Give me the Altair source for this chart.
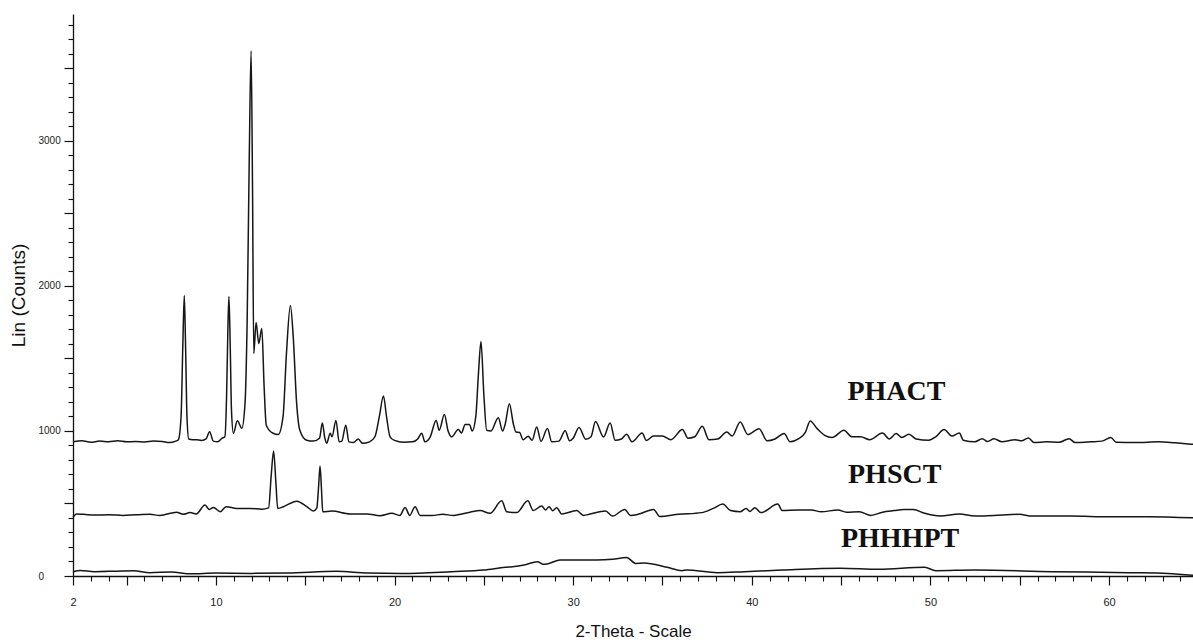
import altair as alt
import pandas as pd

# ---------------- data ----------------
phact_x = [2.0, 2.5, 3.0, 3.5, 4.0, 4.5, 5.0, 5.5, 6.0, 6.5, 7.0, 7.4, 7.75, 7.9, 8.05, 8.15, 8.23, 8.3, 8.38, 8.48,
           8.7, 8.9, 9.2, 9.45, 9.65, 9.85, 10.1, 10.35, 10.5, 10.6, 10.67, 10.73, 10.8, 10.87, 10.98, 11.2, 11.45,
           11.63, 11.75, 11.87, 11.97, 12.05, 12.12, 12.25, 12.4, 12.57, 12.7, 12.82, 13.2, 13.49, 13.76, 13.95,
           14.17, 14.33, 14.52, 14.7, 15.08, 15.45, 15.8, 15.96, 16.1, 16.2, 16.4, 16.5, 16.72, 16.9, 17.05, 17.27,
           17.45, 17.7, 17.97, 18.2, 18.6, 18.9, 19.15, 19.38, 19.55, 19.75, 20.0, 20.5, 21.0, 21.3, 21.52, 21.7,
           22.0, 22.33, 22.5, 22.79, 23.0, 23.2, 23.57, 23.75, 23.95, 24.19, 24.35, 24.55, 24.7, 24.84, 25.0, 25.16,
           25.4, 25.81, 26.05, 26.2, 26.43, 26.65, 26.8, 27.0, 27.2, 27.48, 27.7, 27.96, 28.2, 28.56, 28.8, 29.2,
           29.55, 29.8, 30.0, 30.33, 30.7, 31.0, 31.25, 31.7, 32.07, 32.35, 32.7, 32.99, 33.3, 33.86, 34.1, 34.5,
           35.0, 35.47, 36.12, 36.43, 36.8, 37.23, 37.6, 38.1, 38.6, 38.9, 39.35, 39.78, 40.41, 40.86, 41.3, 41.81,
           42.15, 42.6, 43.0, 43.27, 43.66, 44.08, 44.5, 45.16, 45.6, 46.1, 46.6, 47.32, 47.7, 48.08, 48.4, 48.8,
           49.2, 49.9, 50.3, 50.77, 51.2, 51.62, 51.84, 52.49, 52.9, 53.2, 53.56, 54.0, 54.74, 55.1, 55.49, 55.8,
           56.5, 57.2, 57.76, 58.1, 59.0, 59.6, 60.1, 60.4, 61.5, 62.8, 63.7, 64.7]
phact_y = [925, 932, 922, 930, 926, 932, 925, 928, 924, 930, 927, 920, 930, 940, 1100, 1600, 1934, 1600, 1100, 945,
           940, 940, 935, 945, 995, 930, 925, 950, 960, 1250, 1700, 1927, 1600, 1150, 984, 1070, 1019,
           1190, 1762, 2910, 3620, 2680, 1535, 1748, 1603, 1707, 1303, 1040, 984, 975, 1100, 1535,
           1865, 1647, 1190, 1005, 936, 930, 950, 1055, 950, 915, 985, 960, 1073, 925, 930, 1039,
           925, 920, 945, 915, 925, 960, 1100, 1241, 1100, 960, 935, 922, 925, 945, 984, 925,
           960, 1073, 1005, 1113, 1000, 959, 1010, 986, 1044, 1044, 1000, 1100, 1400, 1617, 1250, 1005,
           1000, 1092, 1000, 1050, 1188, 1050, 993, 990, 939, 963, 936, 1028, 929, 1017, 925, 930,
           1001, 932, 950, 1024, 943, 960, 1065, 959, 1055, 936, 945, 977, 925, 986, 935, 965,
           965, 940, 1010, 950, 960, 1032, 940, 945, 993, 965, 1062, 975, 1016, 932, 945, 982,
           925, 945, 990, 1069, 1016, 970, 955, 1005, 960, 960, 940, 986, 945, 982, 955, 977,
           945, 936, 960, 1010, 965, 986, 936, 925, 947, 928, 947, 925, 940, 932, 952, 920,
           925, 922, 947, 920, 925, 930, 955, 922, 920, 925, 918, 908]

phsct_x = [2.0, 2.2, 2.6, 3.2, 4.0, 4.8, 5.5, 6.3, 6.86, 7.8, 8.17, 8.55, 8.9, 9.39, 9.63, 9.86, 10.24, 10.57,
           11.17, 11.91, 12.57, 12.95, 13.1, 13.23, 13.36, 13.46, 13.78, 14.53, 15.09, 15.46, 15.65, 15.75, 15.83,
           15.91, 15.98, 16.49, 17.51, 18.45, 19.19, 19.85, 20.3, 20.59, 20.85, 21.15, 21.43, 22.1, 22.7, 23.3,
           24.23, 24.79, 25.35, 26.0, 26.28, 26.84, 27.46, 27.77, 28.24, 28.45, 28.65, 28.85, 29.08, 29.36, 30.2,
           30.58, 30.95, 31.81, 32.2, 32.89, 33.2, 33.63, 34.5, 34.85, 35.9, 37.19, 37.84, 38.38, 38.81, 39.35,
           39.68, 39.9, 40.17, 40.52, 41.46, 41.7, 42.58, 43.33, 43.88, 44.83, 45.3, 46.02, 46.67, 47.32, 47.97,
           48.5, 49.04, 49.68, 50.55, 51.62, 52.49, 53.56, 54.96, 55.7, 57.87, 60.0, 62.17, 64.7]
phsct_y = [405, 428, 425, 420, 422, 418, 422, 425, 418, 440, 425, 437, 428, 489, 459, 473, 443, 478,
           466, 466, 461, 470, 700, 862, 640, 466, 478, 516, 478, 448, 470, 620, 759,
           600, 443, 448, 428, 428, 416, 432, 418, 473, 418, 478, 418, 418, 425, 418,
           440, 451, 432, 518, 443, 437, 518, 451, 483, 455, 478, 450, 471, 428, 451,
           418, 427, 448, 413, 459, 418, 425, 459, 410, 425, 437, 466, 496, 451, 443,
           466, 445, 471, 437, 496, 451, 455, 455, 443, 455, 440, 443, 418, 440, 451,
           459, 459, 432, 413, 427, 413, 418, 425, 413, 413, 409, 409, 401]

phhhpt_x = [2.0, 2.4, 3.2, 4.3, 5.4, 6.3, 7.5, 8.6, 10.0, 12.0, 14.0, 16.76, 18.5, 20.4, 23.2, 25.0, 26.2,
            26.6, 27.25, 28.0, 28.3, 28.55, 29.27, 30.48, 31.3, 32.2, 32.99, 33.5, 33.96, 35.26, 36.1, 36.33,
            38.07, 39.58, 41.7, 44.95, 47.1, 49.68, 50.3, 52.5, 56.8, 61.1, 63.3, 64.7]
phhhpt_y = [30, 38, 30, 33, 37, 23, 27, 15, 20, 18, 20, 32, 20, 18, 30, 41, 60,
            64, 76, 99, 81, 83, 110, 110, 110, 115, 128, 87, 89, 60, 37, 41,
            23, 30, 41, 53, 46, 60, 37, 41, 30, 23, 18, 5]

label_names = ["PHACT", "PHSCT", "PHHHPT"]
label_x = [48.1, 48.0, 48.3]
label_y = [1266, 695, 255]

x_major = [2, 5, 10, 15, 20, 25, 30, 35, 40, 45, 50, 55, 60]
x_minor = [v for v in range(3, 65) if v % 5 != 0]
y_major = [0, 500, 1000, 1500, 2000, 2500, 3000, 3500]
y_minor = [v for v in range(100, 3900, 100) if v % 500 != 0]

# ---------------- tables ----------------
rows = []
for name, xs, ys in [("PHACT", phact_x, phact_y), ("PHSCT", phsct_x, phsct_y), ("PHHHPT", phhhpt_x, phhhpt_y)]:
    for i, (a, b) in enumerate(zip(xs, ys)):
        rows.append({"series": name, "x": a, "y": b, "order": i})
df = pd.DataFrame(rows)
labels_df = pd.DataFrame({"name": label_names, "x": label_x, "y": label_y})

xscale = alt.Scale(domain=[2, 64.7], nice=False, zero=False)
yscale = alt.Scale(domain=[0, 3875], nice=False, zero=False)

FONT = "Liberation Sans"

lines = alt.Chart(df).mark_line(color="#161616", strokeWidth=1.5, interpolate="monotone").encode(
    x=alt.X("x:Q", scale=xscale,
            axis=alt.Axis(orient="bottom", values=x_major, tickSize=9, grid=False,
                          labelExpr="(datum.value % 10 == 0 || datum.value == 2) ? datum.label : ''",
                          labelFlush=False, labelOverlap=False, labelPadding=11, labelFontSize=11,
                          labelFont=FONT, labelColor="#222", domainColor="#111", tickColor="#111",
                          domainWidth=1.3, tickWidth=1.2,
                          title="2-Theta - Scale", titleFont=FONT, titleFontSize=17, titleFontWeight="normal",
                          titleColor="#111", titleX=560, titleY=55, titleBaseline="middle", titleAlign="center")),
    y=alt.Y("y:Q", scale=yscale,
            axis=alt.Axis(orient="left", values=y_major, tickSize=9, grid=False,
                          labelExpr="datum.value % 1000 == 0 ? datum.label : ''",
                          labelAlign="left", labelPadding=26, labelFontSize=10, labelFont=FONT,
                          labelColor="#222", labelOverlap=False, format="d",
                          domainColor="#111", tickColor="#111", domainWidth=1.3, tickWidth=1.2,
                          title="Lin (Counts)", titleFont=FONT, titleFontSize=19, titleFontWeight="normal",
                          titleColor="#111", titleX=-55, titleY=281, titleAngle=270,
                          titleBaseline="middle", titleAlign="center")),
    detail="series:N",
    order="order:Q",
)

minor = alt.Chart(df).mark_line(opacity=0).encode(
    x=alt.X("x:Q", scale=xscale,
            axis=alt.Axis(orient="bottom", values=x_minor, tickSize=5, labels=False, domain=False,
                          grid=False, title=None, tickColor="#111", tickWidth=1.1)),
    y=alt.Y("y:Q", scale=yscale,
            axis=alt.Axis(orient="left", values=y_minor, tickSize=5, labels=False, domain=False,
                          grid=False, title=None, tickColor="#111", tickWidth=1.1)),
    detail="series:N",
)

texts = alt.Chart(labels_df).mark_text(font="Liberation Serif", fontSize=28, fontWeight="bold",
                                       color="#111", align="center", baseline="middle").encode(
    x=alt.X("x:Q", scale=xscale, axis=None),
    y=alt.Y("y:Q", scale=yscale, axis=None),
    text="name:N",
)

chart = alt.layer(lines, minor, texts).resolve_scale(
    x="shared", y="shared"
).resolve_axis(
    x="independent", y="independent"
).properties(
    width=1120, height=562,
    autosize=alt.AutoSizeParams(type="none"),
    padding={"left": 73, "top": 14, "right": 0, "bottom": 66},
    background="white",
).configure_view(stroke=None)

chart.save("out.html", embed_options={"renderer": "svg", "actions": False})
